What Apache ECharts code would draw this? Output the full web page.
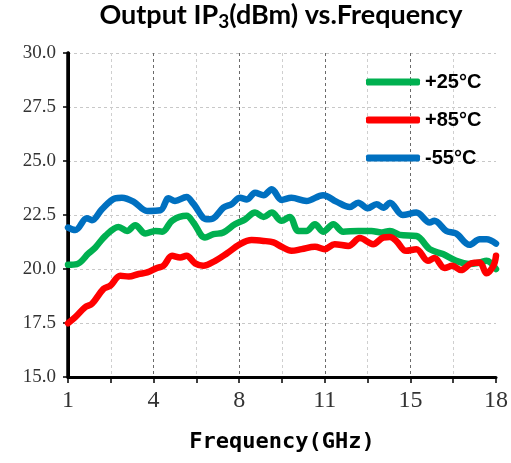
<!DOCTYPE html>
<html><head><meta charset="utf-8">
<script src="https://cdn.jsdelivr.net/npm/echarts@6/dist/echarts.min.js"></script>
<style>html,body{margin:0;padding:0;background:#fff}#c{width:511px;height:463px}</style>
</head><body><div id="c"></div>
<script>
// x positions are in axis units: 0..10, where even units carry these labels (GHz)
const xTickLabels = ['1','4','8','11','15','18'];
const seriesNames = ['+25°C','+85°C','-55°C'];

const posGreen = [0,0.21,0.48,0.64,0.87,1.18,1.38,1.57,1.81,2.04,2.20,2.44,2.77,2.93,3.20,3.40,3.63,3.90,4.14,4.37,4.57,4.76,4.99,5.18,5.38,5.57,5.77,5.96,6.20,6.43,6.78,7.09,7.33,7.52,7.75,8.14,8.45,8.76,9.07,9.38,9.62,9.78,10];
const valGreen = [20.2,20.23,20.72,21.0,21.53,21.95,21.76,22.03,21.64,21.76,21.73,22.25,22.46,22.15,21.46,21.61,21.69,22.07,22.3,22.61,22.41,22.61,22.23,22.41,21.76,21.76,22.07,21.73,22.07,21.73,21.76,21.76,21.69,21.76,21.58,21.53,20.92,20.69,20.38,20.23,20.3,20.38,20.0];

const posRed = [0,0.17,0.40,0.56,0.83,0.99,1.22,1.42,1.65,1.85,2.08,2.23,2.43,2.62,2.77,2.97,3.16,3.44,3.71,4.02,4.29,4.57,4.80,4.99,5.22,5.46,5.77,6.0,6.23,6.55,6.82,7.13,7.37,7.52,7.67,7.90,8.14,8.41,8.56,8.80,8.98,9.18,9.42,9.62,9.78,9.94,10];
const valRed = [17.49,17.77,18.23,18.39,19.08,19.23,19.69,19.65,19.77,19.84,20.05,20.15,20.61,20.53,20.61,20.26,20.15,20.38,20.72,21.15,21.34,21.3,21.23,21.03,20.84,20.92,21.03,20.92,21.15,21.07,21.43,21.15,21.46,21.48,21.3,20.84,20.92,20.38,20.51,20.05,20.15,19.95,20.26,20.3,19.8,20.15,20.61];

const posBlue = [0,0.17,0.44,0.56,0.79,1.10,1.26,1.53,1.85,2.16,2.35,2.50,2.77,2.93,3.24,3.40,3.63,3.82,4.02,4.18,4.37,4.57,4.76,4.99,5.22,5.57,5.96,6.27,6.58,6.78,7.00,7.21,7.37,7.52,7.82,8.14,8.45,8.56,8.84,9.07,9.38,9.62,9.78,10];
const valBlue = [21.92,21.8,22.35,22.26,22.76,23.27,23.3,23.12,22.69,22.72,23.27,23.15,23.33,23.02,22.30,22.35,22.84,23.0,23.3,23.22,23.53,23.42,23.69,23.2,23.3,23.15,23.42,23.12,22.87,23.07,22.81,23.0,22.84,23.07,22.5,22.61,22.15,22.23,21.76,21.64,21.12,21.38,21.38,21.18];

const zip = (a, b) => a.map((x, i) => [x, b[i]]);

const chart = echarts.init(document.getElementById('c'), null, {renderer: 'canvas'});
const lineSeries = (name, color, data) => ({
  name, type: 'line', data, showSymbol: false, smooth: 0.35,
  lineStyle: {color, width: 6.5, cap: 'round', join: 'round'},
  itemStyle: {color}
});

chart.setOption({
  animation: false,
  backgroundColor: '#fff',
  title: {
    text: 'Output IP{s|3}(dBm) vs.Frequency',
    left: 281, top: 3, textAlign: 'center', padding: 0,
    textStyle: {
      fontFamily: 'Lato', fontSize: 27, fontWeight: 'bold', color: '#000', lineHeight: 24,
      rich: { s: {fontFamily: 'Lato', fontSize: 19, fontWeight: 'bold', color: '#000', lineHeight: 24, padding: [14, 0, 0, 0]} }
    }
  },
  legend: {
    orient: 'vertical', left: 361, top: 67, itemWidth: 54, itemHeight: 7, itemGap: 18,
    icon: 'roundRect',
    textStyle: {fontFamily: 'Liberation Sans', fontSize: 20, fontWeight: 'bold', color: '#000', lineHeight: 20},
    data: seriesNames
  },
  grid: {left: 68, right: 13, top: 53, bottom: 86, containLabel: false},
  xAxis: [{
    type: 'value', min: 0, max: 10, interval: 1,
    name: 'Frequency(GHz)', nameLocation: 'middle', nameGap: 54,
    nameTextStyle: {fontFamily: 'DejaVu Sans Mono', fontWeight: 'bold', fontSize: 22, color: '#000'},
    axisLine: {onZero: false, lineStyle: {color: '#000', width: 3}},
    axisTick: {show: true, length: 6, lineStyle: {color: '#000', width: 1.5}},
    axisLabel: {margin: 12, fontFamily: 'Liberation Serif', fontSize: 24, color: '#333', showMinLabel: true, showMaxLabel: true,
      formatter: v => (Math.round(v) % 2 === 0 ? xTickLabels[Math.round(v) / 2] : '')},
    splitLine: {show: true, showMinLine: false, showMaxLine: false, lineStyle: {color: '#cfcfcf', type: [3, 3], width: 1}}
  }, {
    type: 'value', min: 0, max: 10, interval: 2, position: 'bottom',
    axisLine: {show: false}, axisTick: {show: false}, axisLabel: {show: false},
    splitLine: {show: true, showMinLine: false, showMaxLine: false, lineStyle: {color: '#6a6a6a', type: [3, 3], width: 1}}
  }],
  yAxis: [{
    type: 'value', min: 15, max: 30, interval: 2.5,
    axisLine: {show: true, lineStyle: {color: '#000', width: 3}},
    axisTick: {show: true, length: 5, lineStyle: {color: '#000', width: 1.5}},
    axisLabel: {margin: 12, fontFamily: 'Liberation Serif', fontSize: 19, color: '#333', formatter: v => v.toFixed(1)},
    splitLine: {show: true, showMinLine: false, lineStyle: {color: '#c8c8c8', type: [3, 3], width: 1}}
  }, {
    type: 'value', min: 15, max: 30, interval: 2.5, position: 'right',
    axisLine: {show: true, lineStyle: {color: '#000', width: 3.5}},
    axisTick: {show: false}, axisLabel: {show: false}, splitLine: {show: false}
  }],
  series: [
    lineSeries(seriesNames[0], '#00B050', zip(posGreen, valGreen)),
    lineSeries(seriesNames[2], '#0070C0', zip(posBlue, valBlue)),
    lineSeries(seriesNames[1], '#FF0000', zip(posRed, valRed))
  ]
});
</script>
</body></html>
